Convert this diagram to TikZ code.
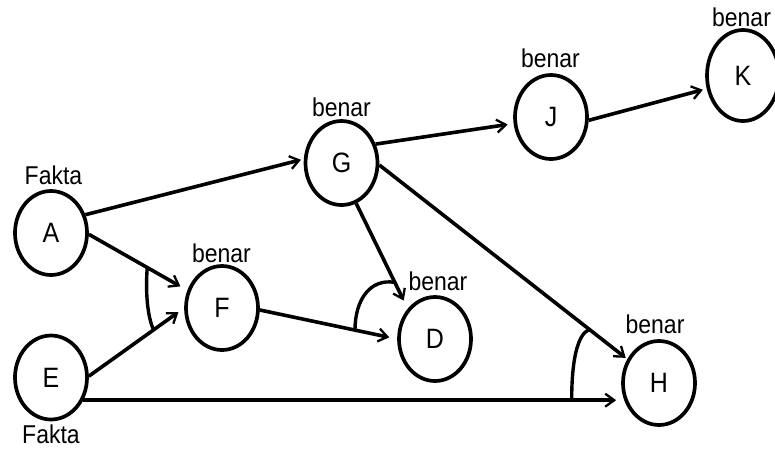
\documentclass[tikz,border=0pt]{standalone}
\usepackage{fontspec}
\setmainfont{Liberation Sans}
\usetikzlibrary{shapes.geometric,arrows.meta,calc}
\newcommand{\tallt}[1]{\scalebox{1}[1.12]{#1}}
\begin{document}
\begin{tikzpicture}[x=1pt,y=-1pt,
  state/.style={ellipse,draw,line width=3.7pt,minimum width=72pt,minimum height=84pt,inner sep=0pt,font=\fontsize{25}{25}\selectfont},
  lbl/.style={anchor=base,inner sep=0pt,font=\fontsize{23}{23}\selectfont},
  conn/.style={line width=3.6pt,-{Straight Barb[length=9pt,width=13pt,line width=2.3pt]}},
  andarc/.style={line width=3.4pt}]
\useasboundingbox (0,0) rectangle (775,448);
% nodes
\node[state] (A) at (51,233) {\tallt{A}};
\node[state] (E) at (51,377.5) {\tallt{E}};
\node[state] (F) at (222,308) {\tallt{F}};
\node[state] (G) at (341.5,163) {\tallt{G}};
\node[state] (D) at (435,339) {\tallt{D}};
\node[state] (H) at (659,383) {\tallt{H}};
\node[state] (J) at (551,117) {\tallt{J}};
\node[state,minimum height=91pt] (K) at (743,75.5) {\tallt{K}};
% labels
\node[lbl] (lA) at (53.5,184) {\tallt{Fakta}};
\node[lbl] (lE) at (51,443.5) {\tallt{Fakta}};
\node[lbl] (lG) at (341.5,116) {\tallt{benar}};
\node[lbl] (lF) at (221.5,262) {\tallt{benar}};
\node[lbl] (lJ) at (550.5,67) {\tallt{benar}};
\node[lbl] (lK) at (741.5,26) {\tallt{benar}};
\node[lbl] (lD) at (438,290) {\tallt{benar}};
\node[lbl] (lH) at (655,333) {\tallt{benar}};
% connectors
\coordinate (hend) at (E.-35 -| H.west);
\draw[conn,shorten >=3pt] (A.28) -- (G.174);
\draw[conn,shorten >=8pt] (A.-2) -- (F.153);
\draw[conn,shorten >=7pt] (E.2) -- (F.180);
\draw[conn,shorten >=5pt] (E.-35) -- (hend);
\draw[conn,shorten >=8pt] (F.-3) -- (D.180);
\draw[conn,shorten >=9pt] (G.-70) -- (D.132);
\draw[conn,shorten >=6pt] (G.29) -- (J.190);
\draw[conn,shorten >=4pt] (J.-5) -- (K.200);
\draw[conn,shorten >=2pt] (G.-3) -- (H.143);
% AND arcs
\coordinate (fa) at ($(A.-2)!0.593!(F.153)$);
\coordinate (fb) at ($(E.2)!0.68!(F.180)$);
\draw[andarc] (fa) .. controls +(-2,25) and +(-6,-12) .. (fb);
\coordinate (da) at ($(G.-70)!0.75!(D.132)$);
\coordinate (db) at ($(F.-3)!0.693!(D.180)$);
\draw[andarc] (da) .. controls +(-25,-4) and +(0,-30) .. (db);
\coordinate (ha) at ($(G.-3)!0.847!(H.143)$);
\coordinate (hb) at ($(E.-35)!0.908!(hend)$);
\draw[andarc] (ha) .. controls +(-12,5) and +(0,-40) .. (hb);
\end{tikzpicture}
\end{document}
